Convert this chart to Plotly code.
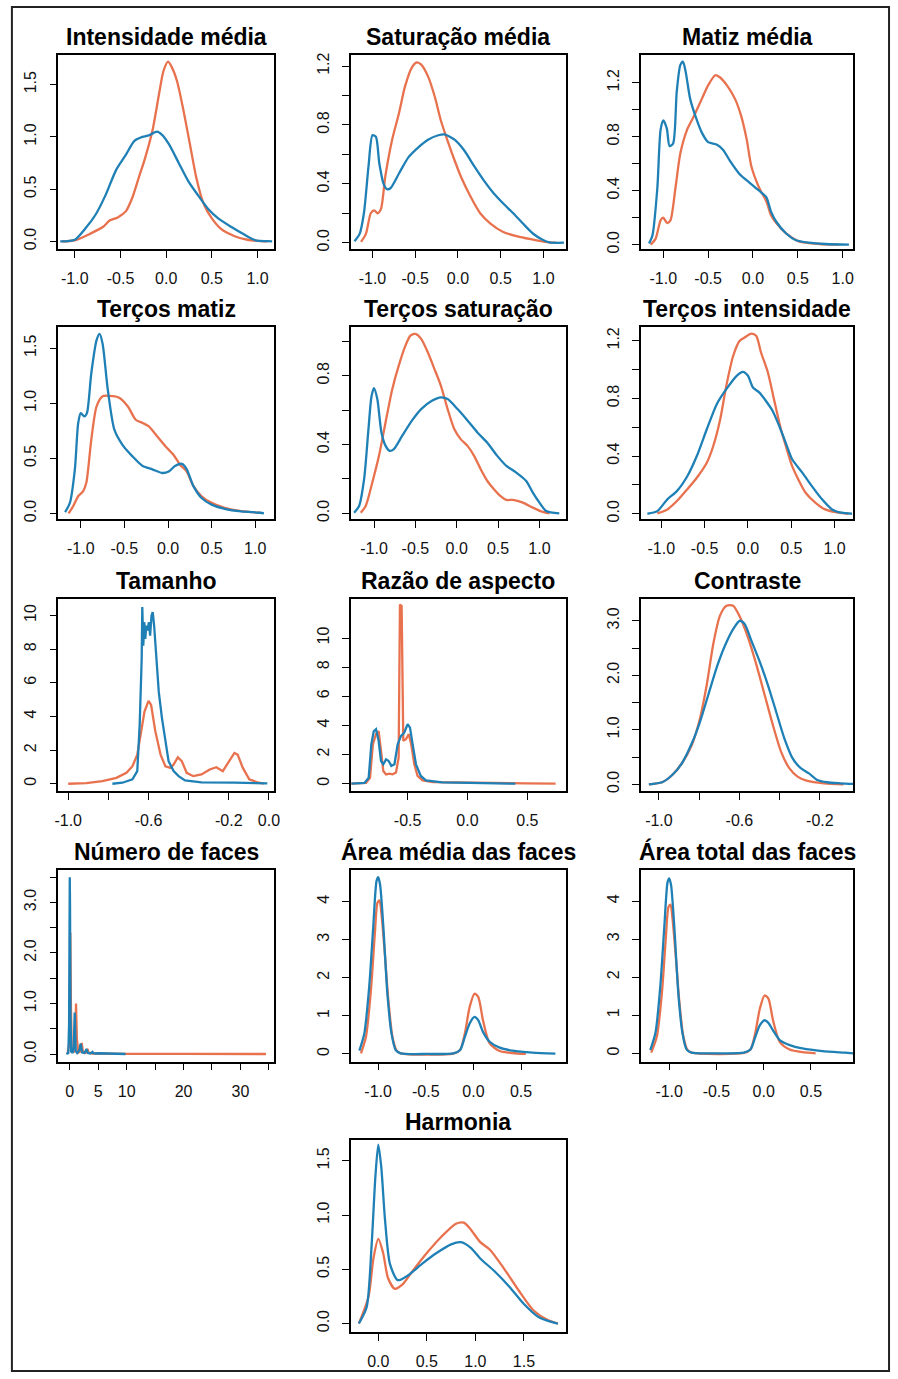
import plotly.graph_objects as go

W, H = 898, 1379
ORANGE = "#E8714E"
BLUE = "#1F80B6"
FONT = "Liberation Sans, Arial, sans-serif"

titles = ["Intensidade média", "Saturação média", "Matiz média",
          "Terços matiz", "Terços saturação", "Terços intensidade",
          "Tamanho", "Razão de aspecto", "Contraste",
          "Número de faces", "Área média das faces", "Área total das faces",
          "Harmonia"]

# ---- 1 Intensidade média
im_xo = [-1.144, -1.0, -0.84, -0.69, -0.62, -0.53, -0.44, -0.37, -0.30, -0.23, -0.15, -0.08, -0.03, 0.02, 0.06, 0.12, 0.19, 0.26, 0.33, 0.41, 0.50, 0.60, 0.75, 0.89, 1.04, 1.11]
im_yo = [0, 0.01, 0.07, 0.14, 0.2, 0.23, 0.29, 0.42, 0.61, 0.80, 1.06, 1.40, 1.63, 1.72, 1.67, 1.53, 1.25, 0.93, 0.61, 0.36, 0.22, 0.12, 0.05, 0.016, 0.003, 0]
im_xb = [-1.16, -1.0, -0.87, -0.77, -0.66, -0.55, -0.44, -0.35, -0.26, -0.19, -0.10, -0.045, 0.03, 0.135, 0.24, 0.35, 0.46, 0.57, 0.71, 0.86, 0.98, 1.11, 1.16]
im_yb = [0, 0.016, 0.14, 0.26, 0.45, 0.68, 0.83, 0.96, 1.0, 1.015, 1.05, 1.02, 0.93, 0.755, 0.58, 0.44, 0.31, 0.22, 0.14, 0.063, 0.01, 0.003, 0]

# ---- 2 Saturação média
sm_xo = [-1.134, -1.077, -1.02, -0.98, -0.94, -0.90, -0.85, -0.77, -0.69, -0.62, -0.54, -0.48, -0.43, -0.35, -0.27, -0.20, -0.12, -0.04, 0.034, 0.15, 0.26, 0.38, 0.53, 0.72, 0.92, 1.07, 1.15]
sm_yo = [0.005, 0.06, 0.2, 0.22, 0.2, 0.23, 0.45, 0.70, 0.88, 1.06, 1.19, 1.225, 1.21, 1.13, 0.99, 0.83, 0.69, 0.56, 0.45, 0.31, 0.2, 0.13, 0.073, 0.039, 0.016, 0.002, 0]
sm_xb = [-1.21, -1.15, -1.10, -1.046, -1.0, -0.96, -0.92, -0.87, -0.83, -0.79, -0.69, -0.58, -0.46, -0.35, -0.23, -0.16, -0.04, 0.07, 0.19, 0.30, 0.42, 0.53, 0.65, 0.76, 0.88, 0.99, 1.07, 1.24]
sm_yb = [0.01, 0.06, 0.2, 0.52, 0.73, 0.72, 0.54, 0.40, 0.364, 0.37, 0.47, 0.58, 0.65, 0.70, 0.73, 0.736, 0.70, 0.63, 0.52, 0.425, 0.334, 0.266, 0.198, 0.13, 0.061, 0.02, 0.002, 0]

# ---- 3 Matiz média
mm_xo = [-1.14, -1.085, -1.03, -1.0, -0.956, -0.92, -0.864, -0.81, -0.735, -0.66, -0.57, -0.50, -0.42, -0.37, -0.29, -0.20, -0.13, -0.07, -0.016, 0.07, 0.15, 0.20, 0.26, 0.37, 0.51, 0.74, 0.96]
mm_yo = [0, 0.045, 0.18, 0.20, 0.16, 0.18, 0.42, 0.675, 0.85, 0.95, 1.08, 1.18, 1.255, 1.24, 1.18, 1.08, 0.95, 0.78, 0.575, 0.42, 0.32, 0.22, 0.16, 0.083, 0.025, 0.005, 0]
mm_xb = [-1.158, -1.12, -1.066, -1.03, -1.0, -0.96, -0.93, -0.89, -0.85, -0.81, -0.78, -0.75, -0.70, -0.64, -0.57, -0.50, -0.40, -0.33, -0.26, -0.15, -0.04, 0.07, 0.15, 0.20, 0.26, 0.37, 0.48, 0.62, 0.81, 1.07]
mm_yb = [0.008, 0.07, 0.42, 0.85, 0.92, 0.86, 0.73, 0.75, 1.13, 1.33, 1.356, 1.28, 1.08, 0.95, 0.83, 0.76, 0.74, 0.70, 0.625, 0.524, 0.46, 0.40, 0.35, 0.247, 0.17, 0.083, 0.033, 0.015, 0.005, 0]

# ---- 4 Terços matiz
tm_xo = [-1.14, -1.087, -1.03, -0.974, -0.936, -0.88, -0.82, -0.75, -0.63, -0.56, -0.46, -0.37, -0.29, -0.22, -0.125, -0.03, 0.064, 0.14, 0.215, 0.29, 0.385, 0.50, 0.65, 0.84, 1.06]
tm_yo = [0, 0.066, 0.156, 0.20, 0.28, 0.667, 0.97, 1.064, 1.064, 1.05, 0.97, 0.85, 0.82, 0.79, 0.70, 0.61, 0.53, 0.44, 0.38, 0.25, 0.156, 0.096, 0.05, 0.02, 0.006]
tm_xb = [-1.18, -1.125, -1.068, -1.03, -1.0, -0.96, -0.93, -0.88, -0.82, -0.785, -0.75, -0.69, -0.615, -0.52, -0.41, -0.29, -0.18, -0.068, 0.008, 0.08, 0.16, 0.215, 0.29, 0.385, 0.50, 0.65, 0.84, 1.06, 1.10]
tm_yb = [0.012, 0.096, 0.40, 0.82, 0.91, 0.88, 0.91, 1.27, 1.57, 1.63, 1.54, 1.12, 0.76, 0.62, 0.52, 0.43, 0.40, 0.367, 0.38, 0.43, 0.45, 0.40, 0.25, 0.14, 0.08, 0.042, 0.018, 0.006, 0]

# ---- 5 Terços saturação
ts_xo = [-1.16, -1.10, -1.02, -0.94, -0.86, -0.78, -0.70, -0.62, -0.56, -0.50, -0.43, -0.35, -0.27, -0.19, -0.11, -0.03, 0.05, 0.13, 0.21, 0.29, 0.37, 0.45, 0.53, 0.60, 0.68, 0.80, 0.92, 1.04, 1.12]
ts_yo = [0.004, 0.043, 0.18, 0.334, 0.53, 0.72, 0.86, 0.975, 1.033, 1.043, 1.014, 0.936, 0.84, 0.74, 0.606, 0.49, 0.43, 0.392, 0.334, 0.256, 0.188, 0.14, 0.10, 0.078, 0.078, 0.062, 0.033, 0.008, 0]
ts_xb = [-1.24, -1.18, -1.12, -1.067, -1.03, -1.0, -0.96, -0.91, -0.86, -0.81, -0.76, -0.66, -0.54, -0.43, -0.30, -0.19, -0.11, 0.01, 0.13, 0.25, 0.37, 0.49, 0.60, 0.72, 0.84, 0.92, 1.0, 1.08, 1.24]
ts_yb = [0.004, 0.043, 0.198, 0.49, 0.68, 0.728, 0.664, 0.47, 0.392, 0.363, 0.373, 0.45, 0.54, 0.606, 0.654, 0.674, 0.664, 0.606, 0.54, 0.47, 0.41, 0.334, 0.276, 0.237, 0.188, 0.12, 0.062, 0.014, 0]

# ---- 6 Terços intensidade
ti_xo = [-1.046, -0.93, -0.82, -0.70, -0.59, -0.475, -0.40, -0.32, -0.25, -0.17, -0.095, -0.038, 0.038, 0.095, 0.15, 0.23, 0.30, 0.38, 0.437, 0.51, 0.59, 0.665, 0.78, 0.89, 1.045, 1.16]
ti_yo = [0.002, 0.03, 0.088, 0.17, 0.25, 0.354, 0.47, 0.655, 0.887, 1.096, 1.2, 1.223, 1.25, 1.235, 1.12, 0.98, 0.795, 0.586, 0.47, 0.33, 0.227, 0.146, 0.076, 0.03, 0.007, 0]
ti_xb = [-1.16, -1.046, -0.93, -0.82, -0.70, -0.59, -0.475, -0.36, -0.25, -0.13, -0.057, 0.0, 0.057, 0.133, 0.21, 0.285, 0.36, 0.437, 0.51, 0.627, 0.74, 0.855, 0.97, 1.08, 1.2]
ti_yb = [0, 0.018, 0.10, 0.157, 0.26, 0.40, 0.586, 0.76, 0.864, 0.957, 0.984, 0.957, 0.876, 0.84, 0.78, 0.713, 0.61, 0.49, 0.378, 0.285, 0.19, 0.10, 0.03, 0.007, 0]

# ---- 7 Tamanho
ta_xo = [-1.0, -0.91, -0.83, -0.76, -0.71, -0.68, -0.656, -0.64, -0.62, -0.60, -0.587, -0.566, -0.54, -0.516, -0.49, -0.475, -0.454, -0.434, -0.41, -0.377, -0.336, -0.295, -0.262, -0.23, -0.205, -0.172, -0.156, -0.13, -0.098, -0.057, -0.025]
ta_yo = [0, 0.04, 0.16, 0.35, 0.65, 1.04, 1.73, 2.9, 4.29, 4.92, 4.68, 3.11, 1.73, 1.04, 0.94, 1.14, 1.57, 1.34, 0.65, 0.45, 0.55, 0.85, 0.98, 0.75, 1.24, 1.83, 1.73, 0.94, 0.26, 0.08, 0]
ta_xb = [-0.78, -0.73, -0.68, -0.656, -0.644, -0.634, -0.631, -0.626, -0.621, -0.616, -0.611, -0.605, -0.598, -0.592, -0.585, -0.579, -0.572, -0.562, -0.549, -0.533, -0.516, -0.50, -0.475, -0.45, -0.418, -0.336, -0.172, -0.074, -0.008]
ta_yb = [0, 0.06, 0.26, 0.75, 3.5, 7.44, 10.5, 8.2, 9.6, 8.6, 9.4, 9.1, 9.6, 8.8, 10.0, 10.2, 9.4, 7.44, 5.47, 3.9, 2.52, 1.34, 0.75, 0.45, 0.2, 0.08, 0.06, 0.04, 0.02]

# ---- 8 Razão de aspecto
ra_xo = [-0.97, -0.847, -0.814, -0.79, -0.764, -0.742, -0.722, -0.703, -0.68, -0.653, -0.625, -0.597, -0.575, -0.564, -0.55, -0.536, -0.514, -0.49, -0.47, -0.444, -0.417, -0.375, -0.29, -0.07, 0.21, 0.486, 0.736]
ra_yo = [0, 0.05, 0.41, 2.7, 3.4, 3.6, 2.25, 0.87, 0.64, 0.69, 0.64, 0.76, 1.79, 12.3, 12.2, 2.94, 3.05, 3.4, 2.7, 1.33, 0.53, 0.23, 0.11, 0.07, 0.05, 0.02, 0]
ra_xb = [-0.97, -0.86, -0.825, -0.803, -0.783, -0.764, -0.742, -0.722, -0.703, -0.68, -0.658, -0.636, -0.61, -0.583, -0.555, -0.528, -0.5, -0.48, -0.458, -0.43, -0.39, -0.347, -0.21, 0.07, 0.35, 0.40]
ra_yb = [0, 0.05, 0.41, 2.7, 3.6, 3.74, 2.94, 1.56, 1.33, 1.67, 1.56, 1.22, 1.33, 2.7, 3.28, 3.5, 4.08, 3.85, 2.7, 1.33, 0.53, 0.23, 0.09, 0.05, 0.02, 0.0]

# ---- 9 Contraste
co_xo = [-1.05, -0.984, -0.934, -0.885, -0.836, -0.795, -0.762, -0.73, -0.697, -0.664, -0.631, -0.60, -0.557, -0.516, -0.475, -0.434, -0.393, -0.352, -0.311, -0.262, -0.18, -0.082]
co_yo = [0, 0.037, 0.17, 0.39, 0.725, 1.22, 1.83, 2.57, 3.09, 3.276, 3.276, 3.09, 2.69, 2.2, 1.647, 1.094, 0.60, 0.295, 0.141, 0.061, 0.018, 0]
co_xb = [-1.05, -0.984, -0.934, -0.885, -0.836, -0.795, -0.754, -0.713, -0.672, -0.631, -0.598, -0.574, -0.54, -0.50, -0.459, -0.418, -0.377, -0.336, -0.295, -0.254, -0.213, -0.164, -0.098, -0.033]
co_yb = [0, 0.037, 0.17, 0.39, 0.756, 1.156, 1.647, 2.14, 2.54, 2.846, 3.0, 2.94, 2.63, 2.26, 1.83, 1.34, 0.848, 0.48, 0.295, 0.2, 0.08, 0.037, 0.018, 0.006]

# ---- 10 Número de faces
nf_xo = [-0.4, -0.1, 0.0, 0.1, 0.2, 0.35, 0.8, 1.0, 1.1, 1.25, 1.5, 1.9, 2.1, 2.3, 2.6, 2.9, 3.1, 3.3, 4.0, 6.0, 10.0, 20.0, 34.5]
nf_yo = [0, 0.2, 1.0, 2.4, 1.0, 0.05, 0.05, 0.4, 1.0, 0.3, 0.03, 0.05, 0.22, 0.05, 0.02, 0.03, 0.1, 0.03, 0.01, 0.005, 0.003, 0.002, 0.0]
nf_xb = [-0.6, -0.25, -0.12, -0.05, 0.0, 0.05, 0.12, 0.25, 0.5, 0.7, 0.8, 0.87, 0.94, 1.05, 1.3, 1.7, 1.85, 1.95, 2.05, 2.2, 2.6, 2.85, 2.95, 3.05, 3.2, 3.6, 3.9, 4.0, 4.1, 4.5, 5.0, 6.0, 7.0, 8.0, 9.8]
nf_yb = [0, 0.02, 0.6, 2.4, 3.5, 2.9, 0.8, 0.05, 0.02, 0.15, 0.55, 0.82, 0.5, 0.06, 0.02, 0.08, 0.18, 0.2, 0.12, 0.03, 0.02, 0.06, 0.1, 0.06, 0.02, 0.01, 0.03, 0.04, 0.02, 0.01, 0.015, 0.01, 0.008, 0.005, 0.0]

# ---- 11 Área média das faces
am_xo = [-1.18, -1.128, -1.076, -1.035, -1.007, -0.986, -0.965, -0.93, -0.893, -0.85, -0.806, -0.764, -0.21, -0.14, -0.09, -0.04, 0.01, 0.05, 0.10, 0.17, 0.275, 0.41, 0.55]
am_yo = [0.017, 0.45, 1.67, 3.15, 3.97, 4.03, 3.67, 2.63, 1.41, 0.45, 0.087, 0.017, 0.009, 0.104, 0.54, 1.23, 1.58, 1.5, 0.887, 0.278, 0.078, 0.026, 0]
am_xb = [-1.197, -1.145, -1.094, -1.052, -1.017, -1.0, -0.98, -0.945, -0.903, -0.86, -0.816, -0.764, -0.487, -0.21, -0.14, -0.09, -0.04, 0.01, 0.05, 0.10, 0.17, 0.275, 0.41, 0.62, 0.86]
am_yb = [0.087, 0.54, 1.76, 3.32, 4.54, 4.64, 4.45, 3.32, 1.58, 0.54, 0.104, 0.017, 0, 0.017, 0.104, 0.45, 0.8, 0.974, 0.887, 0.58, 0.32, 0.165, 0.087, 0.035, 0.009]

# ---- 12 Área total das faces
at_xo = [-1.19, -1.13, -1.076, -1.035, -1.007, -0.986, -0.965, -0.93, -0.893, -0.85, -0.806, -0.764, -0.21, -0.14, -0.09, -0.04, 0.01, 0.05, 0.10, 0.17, 0.275, 0.41, 0.55]
at_yo = [0.017, 0.45, 1.62, 3.05, 3.85, 3.91, 3.55, 2.55, 1.37, 0.44, 0.087, 0.017, 0.009, 0.1, 0.52, 1.18, 1.52, 1.44, 0.86, 0.3, 0.1, 0.03, 0]
at_xb = [-1.2, -1.145, -1.094, -1.052, -1.017, -1.0, -0.98, -0.945, -0.903, -0.86, -0.816, -0.764, -0.487, -0.21, -0.14, -0.09, -0.04, 0.01, 0.05, 0.10, 0.17, 0.275, 0.41, 0.62, 0.86, 0.95]
at_yb = [0.087, 0.54, 1.76, 3.3, 4.5, 4.6, 4.42, 3.3, 1.57, 0.54, 0.104, 0.017, 0, 0.017, 0.1, 0.42, 0.74, 0.87, 0.8, 0.6, 0.35, 0.217, 0.13, 0.06, 0.017, 0.0]

# ---- 13 Harmonia
ha_xo = [-0.2, -0.1, -0.05, 0.0, 0.05, 0.1, 0.17, 0.25, 0.35, 0.5, 0.65, 0.8, 0.88, 0.95, 1.05, 1.15, 1.3, 1.45, 1.6, 1.75, 1.85]
ha_yo = [0.0, 0.25, 0.6, 0.78, 0.65, 0.42, 0.32, 0.36, 0.48, 0.65, 0.8, 0.92, 0.93, 0.87, 0.75, 0.68, 0.5, 0.3, 0.12, 0.03, 0.0]
ha_xb = [-0.2, -0.12, -0.07, -0.03, 0.0, 0.03, 0.07, 0.12, 0.2, 0.3, 0.45, 0.6, 0.75, 0.85, 0.95, 1.05, 1.2, 1.35, 1.5, 1.65, 1.8, 1.85]
ha_yb = [0.0, 0.15, 0.7, 1.35, 1.65, 1.45, 0.95, 0.55, 0.4, 0.44, 0.55, 0.65, 0.73, 0.75, 0.7, 0.6, 0.48, 0.34, 0.18, 0.06, 0.01, 0.0]

# ---- tick values / labels
t_pm1 = [-1.0, -0.5, 0.0, 0.5, 1.0]
l_pm1 = ["-1.0", "-0.5", "0.0", "0.5", "1.0"]
t_y15 = [0.0, 0.5, 1.0, 1.5]
l_y15 = ["0.0", "0.5", "1.0", "1.5"]
t_y12 = [0.0, 0.2, 0.4, 0.6, 0.8, 1.0, 1.2]
l_y12 = ["0.0", "", "0.4", "", "0.8", "", "1.2"]
t_y10 = [0.0, 0.2, 0.4, 0.6, 0.8, 1.0]
l_y10 = ["0.0", "", "0.4", "", "0.8", ""]
t_neg = [-1.0, -0.8, -0.6, -0.4, -0.2, 0.0]
l_neg = ["-1.0", "", "-0.6", "", "-0.2", "0.0"]
t_int10 = [0, 2, 4, 6, 8, 10]
l_int10 = ["0", "2", "4", "6", "8", "10"]
t_ra = [-0.5, 0.0, 0.5]
l_ra = ["-0.5", "0.0", "0.5"]
t_cx = [-1.0, -0.8, -0.6, -0.4, -0.2]
l_cx = ["-1.0", "", "-0.6", "", "-0.2"]
t_cy = [0.0, 0.5, 1.0, 1.5, 2.0, 2.5, 3.0]
l_cy = ["0.0", "", "1.0", "", "2.0", "", "3.0"]
t_nfx = [0, 5, 10, 15, 20, 25, 30, 35]
l_nfx = ["0", "5", "10", "", "20", "", "30", ""]
t_nfy = [0.0, 0.5, 1.0, 1.5, 2.0, 2.5, 3.0, 3.5]
l_nfy = ["0.0", "", "1.0", "", "2.0", "", "3.0", ""]
t_ax = [-1.0, -0.5, 0.0, 0.5]
l_ax = ["-1.0", "-0.5", "0.0", "0.5"]
t_ay = [0, 1, 2, 3, 4]
l_ay = ["0", "1", "2", "3", "4"]
t_hx = [0.0, 0.5, 1.0, 1.5]
l_hx = ["0.0", "0.5", "1.0", "1.5"]

# layout geometry (pixels)
cols = [(55, 273), (351, 568), (644, 859)]
rows = [(53, 248), (327, 520), (600, 793), (872, 1065), (1144, 1337)]

panels = [
    dict(o=(im_xo, im_yo), b=(im_xb, im_yb), xr=[-1.18, 1.18], yr=[-0.07, 1.786], xt=(t_pm1, l_pm1), yt=(t_y15, l_y15), pos=(0, 0), sm=True),
    dict(o=(sm_xo, sm_yo), b=(sm_xb, sm_yb), xr=[-1.25, 1.26], yr=[-0.041, 1.277], xt=(t_pm1, l_pm1), yt=(t_y12, l_y12), pos=(0, 1), sm=True),
    dict(o=(mm_xo, mm_yo), b=(mm_xb, mm_yb), xr=[-1.25, 1.12], yr=[-0.03, 1.407], xt=(t_pm1, l_pm1), yt=(t_y12, l_y12), pos=(0, 2), sm=True),
    dict(o=(tm_xo, tm_yo), b=(tm_xb, tm_yb), xr=[-1.257, 1.215], yr=[-0.054, 1.689], xt=(t_pm1, l_pm1), yt=(t_y15, l_y15), pos=(1, 0), sm=True),
    dict(o=(ts_xo, ts_yo), b=(ts_xb, ts_yb), xr=[-1.277, 1.317], yr=[-0.035, 1.081], xt=(t_pm1, l_pm1), yt=(t_y10, l_y10), pos=(1, 1), sm=True),
    dict(o=(ti_xo, ti_yo), b=(ti_xb, ti_yb), xr=[-1.236, 1.217], yr=[-0.039, 1.293], xt=(t_pm1, l_pm1), yt=(t_y12, l_y12), pos=(1, 2), sm=True),
    dict(o=(ta_xo, ta_yo), b=(ta_xb, ta_yb), xr=[-1.049, 0.025], yr=[-0.43, 10.98], xt=(t_neg, l_neg), yt=(t_int10, l_int10), pos=(2, 0), sm=False),
    dict(o=(ra_xo, ra_yo), b=(ra_xb, ra_yb), xr=[-0.972, 0.82], yr=[-0.5, 12.68], xt=(t_ra, l_ra), yt=(t_int10, l_int10), pos=(2, 1), sm=False),
    dict(o=(co_xo, co_yo), b=(co_xb, co_yb), xr=[-1.09, -0.033], yr=[-0.123, 3.40], xt=(t_cx, l_cx), yt=(t_cy, l_cy), pos=(2, 2), sm=True),
    dict(o=(nf_xo, nf_yo), b=(nf_xb, nf_yb), xr=[-2.0, 35.9], yr=[-0.15, 3.65], xt=(t_nfx, l_nfx), yt=(t_nfy, l_nfy), pos=(3, 0), sm=False),
    dict(o=(am_xo, am_yo), b=(am_xb, am_yb), xr=[-1.284, 0.968], yr=[-0.2, 4.84], xt=(t_ax, l_ax), yt=(t_ay, l_ay), pos=(3, 1), sm=True),
    dict(o=(at_xo, at_yo), b=(at_xb, at_yb), xr=[-1.30, 0.95], yr=[-0.217, 4.83], xt=(t_ax, l_ax), yt=(t_ay, l_ay), pos=(3, 2), sm=True),
    dict(o=(ha_xo, ha_yo), b=(ha_xb, ha_yb), xr=[-0.28, 1.93], yr=[-0.08, 1.69], xt=(t_hx, l_hx), yt=(t_y15, l_y15), pos=(4, 1), sm=True),
]

fig = go.Figure()
layout = dict(width=W, height=H, margin=dict(l=0, r=0, t=0, b=0),
              paper_bgcolor="white", plot_bgcolor="white", showlegend=False,
              font=dict(family=FONT, color="black"))
annotations = []

for i, p in enumerate(panels):
    n = i + 1
    xa = "x" if n == 1 else f"x{n}"
    ya = "y" if n == 1 else f"y{n}"
    r, c = p["pos"]
    x0, x1 = cols[c]
    y0, y1 = rows[r]
    line_shape = "spline" if p["sm"] else "linear"
    for (xs, ys), col in ((p["o"], ORANGE), (p["b"], BLUE)):
        fig.add_trace(go.Scatter(x=xs, y=ys, mode="lines", xaxis=xa, yaxis=ya,
                                 line=dict(color=col, width=2.3, shape=line_shape,
                                           smoothing=0.7 if p["sm"] else None),
                                 hoverinfo="skip"))
    common = dict(showgrid=False, zeroline=False, showline=True, mirror=True,
                  linecolor="black", linewidth=1.7, ticks="outside", ticklen=7,
                  tickwidth=1.2, tickcolor="black",
                  tickfont=dict(family=FONT, size=16, color="#111"),
                  ticklabelstandoff=7)
    layout["xaxis" if n == 1 else f"xaxis{n}"] = dict(
        common, domain=[x0 / W, x1 / W], range=p["xr"], anchor=ya,
        tickmode="array", tickvals=p["xt"][0], ticktext=p["xt"][1])
    layout["yaxis" if n == 1 else f"yaxis{n}"] = dict(
        common, domain=[1 - y1 / H, 1 - y0 / H], range=p["yr"], anchor=xa,
        tickmode="array", tickvals=p["yt"][0], ticktext=p["yt"][1], tickangle=-90)
    annotations.append(dict(text=f"<b>{titles[i]}</b>", xref="paper", yref="paper",
                            x=(x0 + x1) / 2 / W, y=1 - (y0 - 18) / H,
                            xanchor="center", yanchor="middle", showarrow=False,
                            font=dict(family=FONT, size=23, color="black")))

layout["annotations"] = annotations
layout["shapes"] = [dict(type="rect", xref="paper", yref="paper",
                         x0=8 / W, x1=895 / W, y0=1 - 1376 / H, y1=1 - 5 / H,
                         line=dict(color="#222", width=2))]
fig.update_layout(**layout)
fig.write_html("out.html")
